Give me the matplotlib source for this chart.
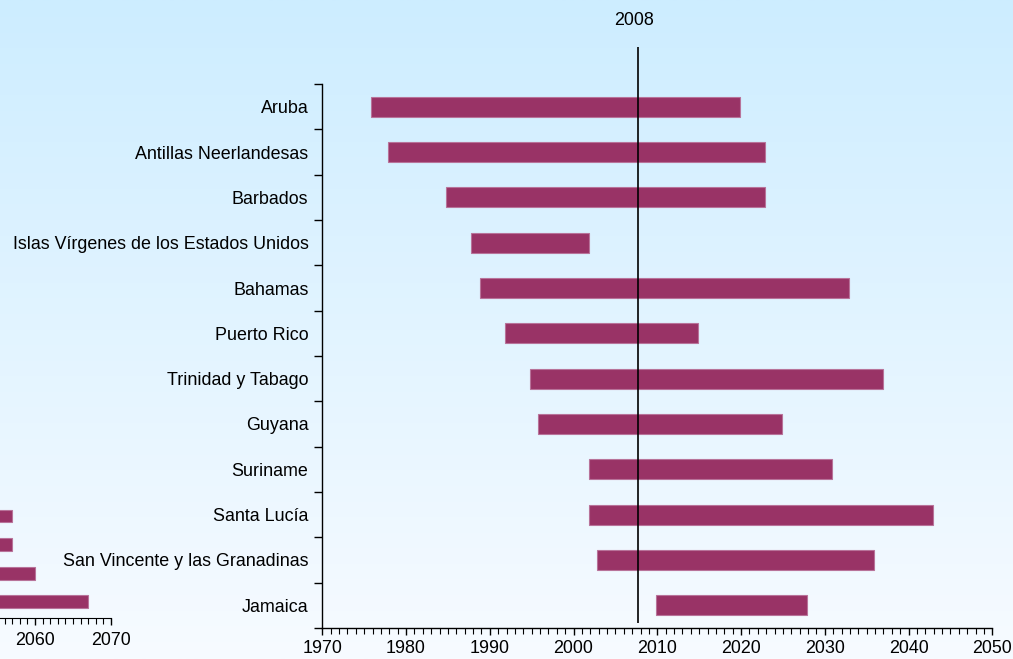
import matplotlib
matplotlib.use("Agg")
import matplotlib.pyplot as plt
import numpy as np
from matplotlib.colors import LinearSegmentedColormap

plt.rcParams["font.family"] = ["Liberation Sans", "DejaVu Sans"]

# --- data ----------------------------------------------------------------- #
countries = ["Aruba", "Antillas Neerlandesas", "Barbados",
             "Islas Vírgenes de los Estados Unidos", "Bahamas", "Puerto Rico",
             "Trinidad y Tabago", "Guyana", "Suriname", "Santa Lucía",
             "San Vincente y las Granadinas", "Jamaica"]
start_year = [1975.8, 1977.8, 1984.8, 1987.8, 1988.8, 1991.8,
              1994.8, 1995.8, 2001.8, 2001.8, 2002.8, 2009.8]
end_year = [2019.9, 2022.9, 2022.9, 2001.9, 2032.9, 2014.9,
            2036.9, 2024.9, 2030.9, 2042.9, 2035.9, 2027.9]
ref_year_label = "2008"
ref_year_pos = 2007.7

# fragment of a second chart peeking in at the bottom left (bottom -> top)
frag_start = [2030, 2030, 2030, 2030]
frag_end = [2067, 2060, 2057, 2057]
frag_ticks = [2040, 2050, 2060, 2070]
frag_labels = ["", "", "2060", "2070"]

BAR = "#993366"
EDGE = "#b8739a"
FS = 12.9
W, H = 1013, 659

fig = plt.figure(figsize=(W / 100, H / 100), dpi=100)

# gradient background
bg = fig.add_axes([0, 0, 1, 1], zorder=-10)
cmap = LinearSegmentedColormap.from_list("bg", ["#f7fbff", "#cdedff"])
bg.imshow(np.linspace(0, 1, 256)[:, None], aspect="auto", cmap=cmap,
          origin="lower", extent=[0, 1, 0, 1])
bg.set_axis_off()

# --- main chart ------------------------------------------------------------ #
ax = fig.add_axes([322.3 / W, (H - 628) / H, 670 / W, 544 / H])
ax.patch.set_alpha(0)
n = len(countries)
ypos = [n - 0.5 - i for i in range(n)]
widths = [e - s for s, e in zip(start_year, end_year)]
ax.barh(ypos, widths, left=start_year, height=0.44, color=BAR,
        edgecolor=EDGE, linewidth=0.8, zorder=2)

ax.set_xlim(1970, 2050)
ax.set_ylim(0, n)
ax.set_xticks(range(1970, 2051, 10))
ax.set_xticks(range(1970, 2051, 1), minor=True)
ax.set_yticks(range(0, n + 1))
ax.set_yticklabels([])
ax.set_yticks(ypos, minor=True)
ax.set_yticklabels(countries, minor=True)
ax.tick_params(axis="y", which="major", direction="out", length=6, width=1)
ax.tick_params(axis="y", which="minor", length=0, pad=10, labelsize=FS)
ax.tick_params(axis="x", which="major", direction="out", length=5, width=1,
               pad=3.5, labelsize=FS)
ax.tick_params(axis="x", which="minor", direction="out", length=4, width=0.8)
for side in ("top", "right"):
    ax.spines[side].set_visible(False)
for side in ("left", "bottom"):
    ax.spines[side].set_linewidth(1)

ax.vlines(ref_year_pos, 0.11, n + 0.82, color="black", lw=1.2,
          clip_on=False, zorder=3)
ax.text(ref_year_pos - 0.5, n + 1.41, ref_year_label, ha="center",
        va="center", fontsize=FS)

# --- fragment of the neighbouring chart ------------------------------------ #
ax2 = fig.add_axes([-117 / W, (H - 617.7) / H, 228 / W, 116 / H])
ax2.patch.set_alpha(0)
fw = [e - s for s, e in zip(frag_start, frag_end)]
ax2.barh(range(len(frag_end)), fw, left=frag_start, height=0.45, color=BAR,
         edgecolor=EDGE, linewidth=0.8)
ax2.set_xlim(2040, 2070)
ax2.set_ylim(-0.56, 3.5)
ax2.set_xticks(frag_ticks)
ax2.set_xticklabels(frag_labels)
ax2.set_xticks(range(2040, 2071, 1), minor=True)
ax2.set_yticks([])
ax2.tick_params(axis="x", which="major", direction="out", length=5, width=1,
                pad=5, labelsize=FS)
ax2.tick_params(axis="x", which="minor", direction="out", length=4, width=0.8)
for side in ("top", "right", "left"):
    ax2.spines[side].set_visible(False)

fig.savefig("out.png", dpi=100)
